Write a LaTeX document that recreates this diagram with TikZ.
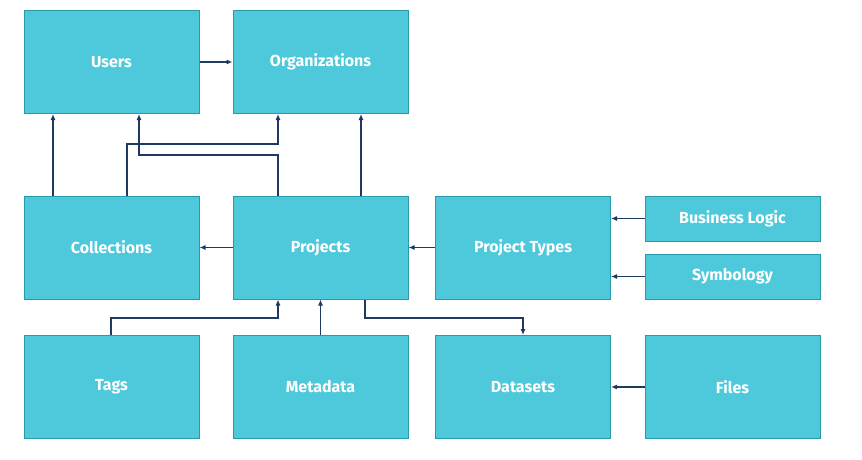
\documentclass[tikz,border=0pt]{standalone}
\usepackage{fontspec}
\setmainfont{Fira Sans}
\usetikzlibrary{arrows.meta}
\definecolor{boxfill}{HTML}{4DC9DB}
\definecolor{boxline}{HTML}{2A9AAA}
\definecolor{arr}{HTML}{1F3A5F}
\begin{document}
\begin{tikzpicture}[x=1pt,y=-1pt,
  box/.style={draw=boxline,line width=1pt,fill=boxfill,minimum width=175pt,minimum height=103pt,inner sep=0pt,text=white,font=\fontsize{16}{18}\selectfont\bfseries},
  sbox/.style={box,minimum height=45pt},
  conn/.style={draw=arr,line width=1.1pt,-{Latex[length=6pt,width=5pt]}}]
\useasboundingbox (0,0) rectangle (862,460);
\node[box] (users) at (111.5,62) {Users};
\node[box] (orgs) at (320.5,62) {Organizations};
\node[box] (coll) at (111.5,247.5) {Collections};
\node[box] (proj) at (320.5,247.5) {Projects};
\node[box] (ptypes) at (523,247.5) {Project Types};
\node[sbox] (blogic) at (732.5,218.5) {Business Logic};
\node[sbox] (symb) at (732.5,276.5) {Symbology};
\node[box] (tags) at (111.5,387) {Tags};
\node[box] (meta) at (320.5,387) {Metadata};
\node[box] (data) at (523,387) {Datasets};
\node[box] (files) at (732.5,387) {Files};
\draw[conn] (users) -- (orgs);
\draw[conn] (53,0 |- coll.north) -- (53,0 |- users.south);
\draw[conn] (127,0 |- coll.north) -- (127,144) -- (278,144) -- (278,0 |- orgs.south);
\draw[conn] (278,0 |- proj.north) -- (278,155) -- (139,155) -- (139,0 |- users.south);
\draw[conn] (361,0 |- proj.north) -- (361,0 |- orgs.south);
\draw[conn] (proj) -- (coll);
\draw[conn] (ptypes) -- (proj);
\draw[conn] (blogic.west) -- (blogic.west -| ptypes.east);
\draw[conn] (symb.west) -- (symb.west -| ptypes.east);
\draw[conn] (111,0 |- tags.north) -- (111,318) -- (278,318) -- (278,0 |- proj.south);
\draw[conn] (meta) -- (proj);
\draw[conn] (365,0 |- proj.south) -- (365,318) -- (523,318) -- (data.north);
\draw[conn] (files) -- (data);
\end{tikzpicture}
\end{document}
